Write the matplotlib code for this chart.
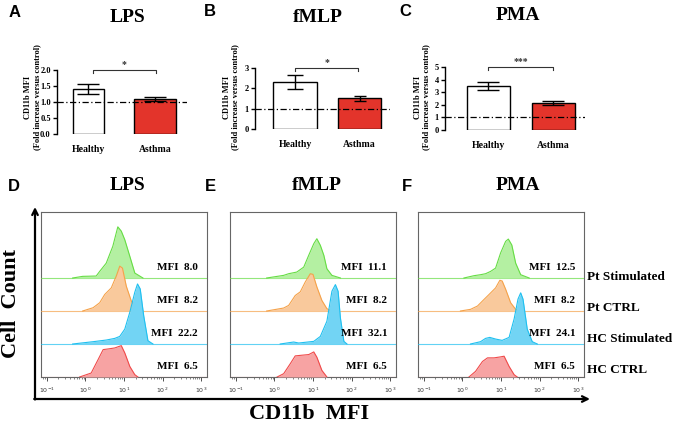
import matplotlib
matplotlib.use('Agg')
import matplotlib.pyplot as plt
import numpy as np

plt.rcParams['font.family'] = 'Liberation Serif'
plt.rcParams['font.weight'] = 'bold'

# ---- bar chart data (fold increase versus control) ----
groups = ['Healthy', 'Asthma']
lps_mean = [1.40, 1.10]
lps_err = [0.16, 0.07]
fmlp_mean = [2.30, 1.51]
fmlp_err = [0.34, 0.12]
pma_mean = [3.50, 2.14]
pma_err = [0.30, 0.15]

# ---- histogram outlines: log10(CD11b) and height in row units ----
lps_pt_stim_log = [-0.33, -0.07, 0.28, 0.37, 0.54, 0.71, 0.84, 0.93, 1.02, 1.15, 1.28, 1.49]
lps_pt_stim_h = [0.0, 0.05, 0.06, 0.2, 0.45, 0.96, 1.55, 1.42, 1.16, 0.66, 0.15, 0.0]
lps_pt_ctrl_log = [-0.07, 0.2, 0.37, 0.5, 0.67, 0.8, 0.89, 0.96, 1.06, 1.19, 1.32, 1.49]
lps_pt_ctrl_h = [0.0, 0.1, 0.25, 0.5, 0.7, 1.06, 1.36, 1.3, 0.75, 0.3, 0.07, 0.0]
lps_hc_stim_log = [-0.33, 0.2, 0.54, 0.76, 0.89, 1.02, 1.15, 1.28, 1.35, 1.42, 1.51, 1.62, 1.75]
lps_hc_stim_h = [0.0, 0.07, 0.12, 0.17, 0.23, 0.45, 0.96, 1.57, 1.82, 1.67, 0.86, 0.1, 0.0]
lps_hc_ctrl_log = [-0.15, 0.15, 0.33, 0.46, 0.59, 0.76, 0.93, 1.02, 1.15, 1.28, 1.36]
lps_hc_ctrl_h = [0.0, 0.12, 0.53, 0.83, 0.85, 0.88, 0.95, 0.73, 0.32, 0.07, 0.0]

fmlp_pt_stim_log = [-0.2, 0.24, 0.37, 0.58, 0.76, 0.89, 1.02, 1.1, 1.19, 1.28, 1.36, 1.49, 1.71]
fmlp_pt_stim_h = [0.0, 0.08, 0.13, 0.18, 0.33, 0.69, 1.04, 1.19, 0.99, 0.69, 0.28, 0.08, 0.0]
fmlp_pt_ctrl_log = [-0.2, 0.24, 0.37, 0.54, 0.67, 0.8, 0.93, 1.0, 1.1, 1.23, 1.36, 1.49]
fmlp_pt_ctrl_h = [0.0, 0.09, 0.17, 0.47, 0.58, 0.88, 1.13, 1.11, 0.73, 0.32, 0.07, 0.0]
fmlp_hc_stim_log = [0.15, 0.5, 0.63, 1.02, 1.19, 1.36, 1.49, 1.58, 1.65, 1.71, 1.8, 1.88]
fmlp_hc_stim_h = [0.0, 0.06, 0.03, 0.08, 0.23, 0.69, 1.6, 1.8, 1.6, 0.79, 0.08, 0.0]
fmlp_hc_ctrl_log = [0.07, 0.24, 0.41, 0.54, 0.71, 0.89, 1.02, 1.1, 1.23, 1.36]
fmlp_hc_ctrl_h = [0.0, 0.1, 0.4, 0.64, 0.66, 0.68, 0.76, 0.6, 0.2, 0.0]

pma_pt_stim_log = [0.04, 0.3, 0.47, 0.6, 0.73, 0.86, 0.99, 1.12, 1.19, 1.28, 1.38, 1.51, 1.73]
pma_pt_stim_h = [0.0, 0.07, 0.1, 0.13, 0.2, 0.3, 0.76, 1.11, 1.18, 1.0, 0.45, 0.1, 0.0]
pma_pt_ctrl_log = [-0.05, 0.21, 0.39, 0.56, 0.69, 0.86, 0.97, 1.03, 1.12, 1.25, 1.38, 1.51]
pma_pt_ctrl_h = [0.0, 0.05, 0.15, 0.35, 0.5, 0.7, 0.93, 0.91, 0.66, 0.25, 0.05, 0.0]
pma_hc_stim_log = [0.21, 0.47, 0.6, 0.71, 0.86, 1.03, 1.21, 1.34, 1.44, 1.51, 1.57, 1.68, 1.81, 1.94]
pma_hc_stim_h = [0.0, 0.07, 0.17, 0.2, 0.15, 0.11, 0.2, 0.76, 1.36, 1.55, 1.36, 0.45, 0.07, 0.0]
pma_hc_ctrl_log = [0.17, 0.34, 0.52, 0.65, 0.82, 0.99, 1.08, 1.21, 1.34, 1.42]
pma_hc_ctrl_h = [0.0, 0.17, 0.47, 0.58, 0.58, 0.61, 0.63, 0.32, 0.07, 0.0]

lps_mfi = ['6.5', '22.2', '8.2', '8.0']
fmlp_mfi = ['6.5', '32.1', '8.2', '11.1']
pma_mfi = ['6.5', '24.1', '8.2', '12.5']
row_names = ['HC CTRL', 'HC Stimulated', 'Pt CTRL', 'Pt Stimulated']
row_lines = ['#f04a4a', '#1fc0f0', '#f5a24a', '#66dd44']
row_fills = ['#f7a3a3', '#72d4f4', '#f9c99c', '#b4f0a2']

W, H = 676, 424
fig = plt.figure(figsize=(W / 100, H / 100), dpi=100)


def px_axes(l, t, r, b):
    return fig.add_axes([l / W, 1 - b / H, (r - l) / W, (b - t) / H])


over = px_axes(0, 0, W, H)
over.set_xlim(0, W)
over.set_ylim(H, 0)
over.axis('off')


def bar_panel(ax, means, errs, top, ticks, ticklabels, xlim, widths, caps, star, sig_x):
    x = np.arange(len(groups))
    ax.bar(x, means, width=widths, color=['white', '#e3342b'], edgecolor='black', linewidth=1, zorder=2)
    for i in range(len(groups)):
        ax.errorbar(x[i], means[i], yerr=errs[i], fmt='none', ecolor='black',
                    elinewidth=1, capsize=caps[i], capthick=1, zorder=3)
    ax.axhline(1, color='black', lw=0.9, ls=(0, (5, 2, 1, 2)), zorder=4)
    ax.set_xlim(*xlim)
    ax.set_ylim(0, top)
    ax.set_yticks(ticks)
    ax.set_yticklabels(ticklabels)
    ax.set_xticks(x)
    ax.set_xticklabels(groups)
    ax.tick_params(axis='x', length=0, pad=8, labelsize=7)
    ax.tick_params(axis='y', length=3, width=1, pad=1.5, labelsize=6)
    for s in ['top', 'right', 'bottom']:
        ax.spines[s].set_visible(False)
    ax.spines['left'].set_linewidth(1)
    ax.patch.set_alpha(0)
    d = top * 3 / (ax.get_position().height * H)
    ax.plot([sig_x[0], sig_x[0], sig_x[1], sig_x[1]], [top - d, top, top, top - d],
            color='#333333', lw=0.8, clip_on=False)
    ax.text(np.mean(sig_x), top + d * 0.2, star, ha='center', va='bottom', fontsize=7, color='#333333')


axA = px_axes(57, 70, 187, 134)
bar_panel(axA, lps_mean, lps_err, 2.0, [0, 0.5, 1.0, 1.5, 2.0], ['0.0', '0.5', '1.0', '1.5', '2.0'],
          (-0.47, 1.48), [0.475, 0.63], [8, 8], '*', (0.07, 1.01))
axB = px_axes(255, 68, 390, 129)
bar_panel(axB, fmlp_mean, fmlp_err, 3, [0, 1, 2, 3], ['0', '1', '2', '3'],
          (-0.62, 1.47), [0.67, 0.67], [6, 4.5], '*', (0.0, 0.98))
axC = px_axes(445, 67, 585, 130)
bar_panel(axC, pma_mean, pma_err, 5, [0, 1, 2, 3, 4, 5], ['0', '1', '2', '3', '4', '5'],
          (-0.67, 1.49), [0.67, 0.67], [8, 8], '***', (0.0, 1.0))

for xc in [32.5, 231, 422]:
    over.text(xc, 97, 'CD11b MFI\n(Fold increase versus control)', rotation=90, ha='center', va='center',
              fontsize=6, linespacing=1.15)


def hist_panel(ax, logs, hs, mfi, legend=False):
    for i in range(3, -1, -1):
        xv = 10 ** np.array(logs[i])
        hv = np.array(hs[i]) + i
        ax.axhline(i, color=row_lines[i], lw=0.8, alpha=0.7, zorder=1 + (4 - i) * 2)
        ax.fill_between(xv, i, hv, color=row_fills[i], lw=0, zorder=1 + (4 - i) * 2)
        ax.plot(xv, hv, color=row_lines[i], lw=0.8, zorder=2 + (4 - i) * 2)
        ax.text(0.946, i + 0.33, 'MFI  ' + mfi[i], transform=ax.get_yaxis_transform(),
                ha='right', va='center', fontsize=8, zorder=20)
        if legend:
            ax.text(1.018, i + [0.2, 0.15, 0.1, 0.03][i], row_names[i], transform=ax.get_yaxis_transform(),
                    ha='left', va='center', fontsize=9.5, clip_on=False)
    ax.set_xscale('log')
    ax.set_xlim(10 ** -1.15, 10 ** 3.15)
    ax.set_ylim(0, 5)
    ax.set_yticks([])
    ax.set_xticks([0.1, 1, 10, 100, 1000])
    ax.tick_params(axis='x', which='major', length=3, width=0.6, labelsize=4.5, pad=3, colors='#333333')
    ax.tick_params(axis='x', which='minor', length=1.5, width=0.5, colors='#555555')
    for lab in ax.get_xticklabels():
        lab.set_fontfamily('DejaVu Sans')
        lab.set_fontweight('normal')
    for s in ax.spines.values():
        s.set_color('#666666')
        s.set_linewidth(0.8)


axD = px_axes(41, 212, 207, 377)
hist_panel(axD, [lps_hc_ctrl_log, lps_hc_stim_log, lps_pt_ctrl_log, lps_pt_stim_log],
           [lps_hc_ctrl_h, lps_hc_stim_h, lps_pt_ctrl_h, lps_pt_stim_h], lps_mfi)
axE = px_axes(230, 212, 396, 377)
hist_panel(axE, [fmlp_hc_ctrl_log, fmlp_hc_stim_log, fmlp_pt_ctrl_log, fmlp_pt_stim_log],
           [fmlp_hc_ctrl_h, fmlp_hc_stim_h, fmlp_pt_ctrl_h, fmlp_pt_stim_h], fmlp_mfi)
axF = px_axes(418, 212, 584, 377)
hist_panel(axF, [pma_hc_ctrl_log, pma_hc_stim_log, pma_pt_ctrl_log, pma_pt_stim_log],
           [pma_hc_ctrl_h, pma_hc_stim_h, pma_pt_ctrl_h, pma_pt_stim_h], pma_mfi, legend=True)

# titles and panel letters
for (xc, yc), t in zip([(128, 17), (318, 17), (518, 16), (128, 186), (317, 186), (518, 186)],
                       ['LPS', 'fMLP', 'PMA', 'LPS', 'fMLP', 'PMA']):
    over.text(xc, yc, t, ha='center', va='center', fontsize=14)
for (xc, yc), t in zip([(14.5, 12.5), (210, 12), (405, 11), (13.5, 186.5), (210, 186.5), (406.5, 186.5)],
                       ['A', 'B', 'C', 'D', 'E', 'F']):
    over.text(xc, yc, t, ha='center', va='center', fontsize=12, fontfamily='Liberation Sans')

over.text(11, 303, 'Cell  Count', rotation=90, ha='center', va='center', fontsize=16)
over.text(309, 414, 'CD11b  MFI', ha='center', va='center', fontsize=16)

arrow = dict(arrowstyle='->', lw=1.6, color='black', mutation_scale=10, shrinkA=0, shrinkB=0)
over.annotate('', xy=(35, 207), xytext=(35, 399.5), arrowprops=arrow)
over.annotate('', xy=(590, 399), xytext=(34.2, 399), arrowprops=arrow)

fig.savefig('out.png', dpi=100)
